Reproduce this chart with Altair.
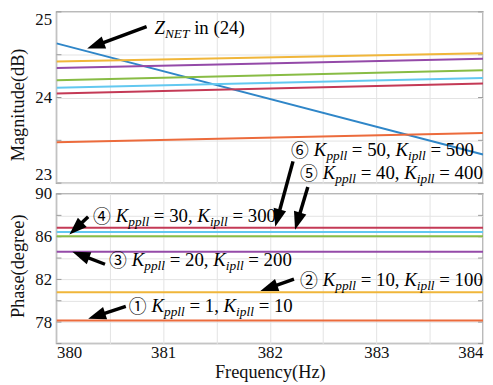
import math
import altair as alt
import pandas as pd

# ---------------- data ----------------
freq = [380, 384]

# Magnitude (dB) at 380 Hz and 384 Hz
mag_znet = [24.633, 23.335]
mag_1 = [23.478, 23.586]
mag_2 = [24.422, 24.518]
mag_3 = [24.345, 24.453]
mag_4 = [24.202, 24.318]
mag_5 = [24.113, 24.229]
mag_6 = [24.048, 24.164]

# Phase (degree) at 380 Hz and 384 Hz
phase_1 = [78.15, 78.15]
phase_2 = [80.80, 80.80]
phase_3 = [84.60, 84.60]
phase_4 = [86.05, 86.05]
phase_5 = [86.45, 86.45]
phase_6 = [86.85, 86.85]

series_names = ["znet", "1", "2", "3", "4", "5", "6"]
series_colors = ["#2F86C8", "#EC6B3C", "#F0B63A", "#944AA8", "#88BC45", "#62C8F0", "#C43A56"]

# annotation labels
circ = ["①", "②", "③", "④", "⑤", "⑥"]
kppll = [1, 10, 20, 30, 40, 50]
kipll = [10, 100, 200, 300, 400, 500]
label_panel = ["ph", "ph", "ph", "ph", "mag", "mag"]
label_x = [380.677, 382.283, 380.492, 380.343, 382.283, 382.200]
label_y = [78.97, 81.38, 83.23, 87.40, 23.046, 23.312]
znet_label = (380.919, 24.746)

# arrows: panel, tail (x, y), tip (x, y)
arrow_panel = ["mag", "ph", "ph", "ph", "ph", "ph", "ph"]
arrow_tail = [(380.845, 24.827), (382.218, 93.06), (382.357, 90.65), (380.297, 87.87),
              (380.455, 83.42), (382.227, 82.03), (380.650, 79.48)]
arrow_tip = [(380.288, 24.572), (382.051, 86.94), (382.237, 86.66), (380.121, 86.20),
             (380.149, 84.58), (381.912, 80.91), (380.297, 78.32)]

# ---------------- layout constants ----------------
W, H_MAG, H_PH = 431, 173, 151
MAG_DOM, PH_DOM = [23, 25], [76, 90]
PX_X = W / 4.0
PX_Y = {"mag": H_MAG / 2.0, "ph": H_PH / 14.0}
SERIF = "Liberation Serif"
F, S, CIRC = 19, 13.5, 18

# ---------------- build tables ----------------
mag_vals = [mag_znet, mag_1, mag_2, mag_3, mag_4, mag_5, mag_6]
ph_vals = [phase_1, phase_2, phase_3, phase_4, phase_5, phase_6]
mag_df = pd.DataFrame([{"s": n, "x": f, "y": v[i]} for n, v in zip(series_names, mag_vals)
                       for i, f in enumerate(freq)])
ph_df = pd.DataFrame([{"s": n, "x": f, "y": v[i]} for n, v in zip(series_names[1:], ph_vals)
                      for i, f in enumerate(freq)])

W_RM = {**{d: 0.5 for d in "0123456789"}, " ": 0.25, "=": 0.564, ",": 0.25, "(": 0.333,
        ")": 0.333, "i": 0.278, "n": 0.5}
W_IT = {"K": 0.667, "Z": 0.556, "N": 0.667, "E": 0.611, "T": 0.556, "p": 0.5, "l": 0.278, "i": 0.278}


def tw(s, table, size):
    return sum(table[c] for c in s) * size


segs = []
sp = 0.25 * F
for c, kp, ki, pnl, lx, ly in zip(circ, kppll, kipll, label_panel, label_x, label_y):
    parts = [("circ", c, CIRC + 5), ("it", "K", tw("K", W_IT, F)),
             ("sub", "ppll", tw("ppll", W_IT, S) + sp),
             ("rm", f"= {kp},", tw(f"= {kp},", W_RM, F) + sp),
             ("it", "K", tw("K", W_IT, F)), ("sub", "ipll", tw("ipll", W_IT, S) + sp),
             ("rm", f"= {ki}", 0)]
    pos = 0.0
    for role, txt, adv in parts:
        segs.append({"panel": pnl, "role": role, "t": txt, "x": lx + pos / PX_X, "y": ly})
        pos += adv
pos = 0.0
for role, txt, adv in [("it", "Z", tw("Z", W_IT, F)), ("sub", "NET", tw("NET", W_IT, S) + sp),
                       ("rm", "in (24)", 0)]:
    segs.append({"panel": "mag", "role": role, "t": txt, "x": znet_label[0] + pos / PX_X,
                 "y": znet_label[1]})
    pos += adv
seg_df = pd.DataFrame(segs)

arrows = []
for pnl, (tx, ty), (hx, hy) in zip(arrow_panel, arrow_tail, arrow_tip):
    dx = (hx - tx) * PX_X
    dy = -(hy - ty) * PX_Y[pnl]
    L = math.hypot(dx, dy)
    ux, uy = dx / L, dy / L
    back = 11.0
    ex = hx - ux * back / PX_X
    ey = hy + uy * back / PX_Y[pnl]
    ang = math.degrees(math.atan2(dx, -dy)) % 360
    arrows.append({"panel": pnl, "x": tx, "y": ty, "x2": ex, "y2": ey,
                   "hx": hx, "hy": hy, "angle": ang})
arr_df = pd.DataFrame(arrows)

x_vals = [380 + 0.5 * i for i in range(9)]
mag_ticks = [23, 23.5, 24, 24.5, 25]
ph_ticks = [76 + 2 * i for i in range(8)]
tick_len = 5 / PX_X
tick_rows = []
for pnl, vals in [("mag", mag_ticks), ("ph", ph_ticks)]:
    for v in vals:
        tick_rows.append({"panel": pnl, "x": 380, "x2": 380 + tick_len, "y": v})
        tick_rows.append({"panel": pnl, "x": 384 - tick_len, "x2": 384, "y": v})
tick_df = pd.DataFrame(tick_rows)

# ---------------- chart ----------------
xscale = alt.Scale(domain=[380, 384], nice=False, zero=False)
grid_kw = dict(grid=True, gridColor="#e3e3e3", gridWidth=1, ticks=False, domain=False)
x_axis_top = alt.Axis(values=x_vals, labels=False, title=None, **grid_kw)
x_axis_bot = alt.Axis(values=x_vals, title="Frequency(Hz)", labelPadding=1, titlePadding=2,
                      labelExpr="datum.value % 1 == 0 ? format(datum.value, 'd') : ''",
                      labelOverlap=False, **grid_kw)
y_axis_mag = alt.Axis(values=mag_ticks, title="Magnitude(dB)", labelFlush=True, labelPadding=5,
                      titlePadding=7, titleY=H_MAG / 2 + 7, labelOverlap=False,
                      labelExpr="datum.value % 1 == 0 ? format(datum.value, 'd') : ''", **grid_kw)
y_axis_ph = alt.Axis(values=ph_ticks, title="Phase(degree)", labelPadding=5, titlePadding=7,
                     titleY=H_PH / 2 - 3, labelOverlap=False,
                     labelExpr="(datum.value - 78) % 4 == 0 ? format(datum.value, 'd') : ''",
                     **grid_kw)

color = alt.Color("s:N", scale=alt.Scale(domain=series_names, range=series_colors), legend=None)


def panel(pnl, lines_df, x_axis, y_axis, dom, height):
    ys = alt.Scale(domain=dom, nice=False, zero=False)
    X = alt.X("x:Q", scale=xscale, axis=x_axis)
    Y = alt.Y("y:Q", scale=ys, axis=y_axis)
    layers = []
    layers.append(alt.Chart(tick_df[tick_df.panel == pnl]).mark_rule(color="#9a9a9a", strokeWidth=1)
                  .encode(x=X, x2="x2:Q", y=Y))
    layers.append(alt.Chart(lines_df).mark_line(strokeWidth=2, clip=True)
                  .encode(x=X, y=Y, color=color, detail="s:N"))
    sd = seg_df[seg_df.panel == pnl]
    styles = {
        "circ": dict(font="Noto Sans CJK JP", fontSize=CIRC, dy=1),
        "it": dict(font=SERIF, fontSize=F, fontStyle="italic"),
        "sub": dict(font=SERIF, fontSize=S, fontStyle="italic", dy=4),
        "rm": dict(font=SERIF, fontSize=F),
    }
    for role, st in styles.items():
        d = sd[sd.role == role]
        if len(d):
            layers.append(alt.Chart(d).mark_text(align="left", baseline="alphabetic", color="black", **st)
                          .encode(x=X, y=Y, text="t:N"))
    ad = arr_df[arr_df.panel == pnl]
    layers.append(alt.Chart(ad).mark_rule(color="black", strokeWidth=3.5)
                  .encode(x=X, x2="x2:Q", y=Y, y2="y2:Q"))
    layers.append(alt.Chart(ad).mark_point(shape="M0,0L-0.72,2L0.72,2Z", size=324, filled=True,
                                            color="black", opacity=1, strokeWidth=0)
                  .encode(x=alt.X("hx:Q", scale=xscale, axis=x_axis),
                          y=alt.Y("hy:Q", scale=ys, axis=y_axis),
                          angle=alt.Angle("angle:Q", scale=None)))
    return alt.layer(*layers).properties(width=W, height=height)


top = panel("mag", mag_df, x_axis_top, y_axis_mag, MAG_DOM, H_MAG)
bot = panel("ph", ph_df, x_axis_bot, y_axis_ph, PH_DOM, H_PH)

chart = (alt.vconcat(top, bot, spacing=11, bounds="flush")
         .resolve_scale(y="independent")
         .properties(padding={"left": 0, "top": 0, "right": 0, "bottom": 0})
         .configure_view(stroke="#a0a0a0", strokeWidth=1.5)
         .configure_axis(labelFont=SERIF, labelFontSize=17, labelColor="#111111",
                         titleFont=SERIF, titleFontSize=18.5, titleFontWeight="normal",
                         titleColor="#111111"))

chart.save("out.html", embed_options={"renderer": "svg", "actions": False})
